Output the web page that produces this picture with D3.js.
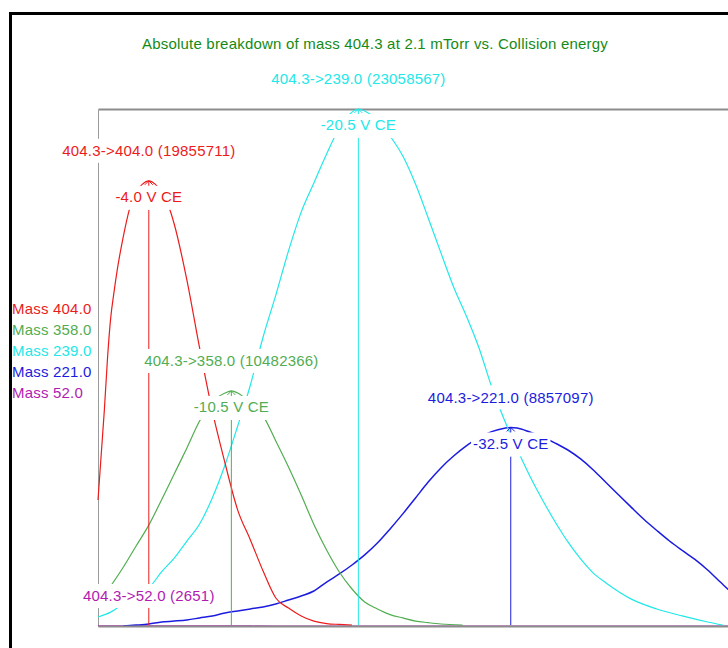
<!DOCTYPE html>
<html>
<head>
<meta charset="utf-8">
<script src="https://cdn.jsdelivr.net/npm/d3@7"></script>
<style>
  html, body { margin: 0; padding: 0; background: #fff; }
  svg { display: block; }
  text { font-family: "Liberation Sans", Arial, sans-serif; font-size: 15px; letter-spacing: 0.2px; }
</style>
</head>
<body>
<svg id="chart" width="728" height="648"></svg>
<script>
// Breakdown curves of precursor 404.3 vs. collision energy (magnitude, volts)
const precursor = 404.3;
const seriesNames = ["Mass 404.0", "Mass 358.0", "Mass 239.0", "Mass 221.0", "Mass 52.0"];
const productMasses = [404.0, 358.0, 239.0, 221.0, 52.0];
const seriesColors = ["#ec1c1c", "#52ad52", "#22e8e8", "#1c1ce0", "#b01cb0"];

// optimum collision energy (V) and intensity at that energy
const peakCE = [4.0, 10.5, 20.5, 32.5, 4.0];
const peakIntensity = [19855711, 10482366, 23058567, 8857097, 2651];

// Mass 404.0
const ce404 = [0, 0.25, 0.5, 0.75, 1, 1.25, 1.5, 2, 2.5, 3, 3.5, 4, 4.5, 5, 5.5, 6, 7, 8, 9, 10, 11,
  12, 13, 14, 15, 16, 17, 18, 19, 20];
const int404 = [5620000, 7630000, 9630000, 11950000, 13740000, 14850000, 15830000, 17390000,
  18640000, 19360000, 19710000, 19855711, 19710000, 19360000, 18820000, 17930000, 15430000,
  12400000, 9590000, 7270000, 5170000, 3840000, 2450000, 1250000, 800000, 450000, 220000,
  110000, 70000, 40000];

// Mass 358.0
const ce358 = [0, 1, 2, 3, 4, 5, 6, 7, 8, 9, 10, 10.5, 11, 12, 13, 14, 15, 16, 17, 18, 19, 20, 21, 22,
  23, 24, 25, 26, 27, 28.7];
const int358 = [980000, 1780000, 2630000, 3570000, 4500000, 5620000, 6780000, 7940000, 9140000,
  9990000, 10390000, 10482366, 10390000, 9950000, 9370000, 8250000, 7090000, 5840000, 4530000,
  3390000, 2410000, 1650000, 1070000, 760000, 510000, 360000, 220000, 150000, 90000, 40000];

// Mass 239.0
const ce239 = [0, 1, 2, 3, 4, 5, 6, 7, 8, 9, 10, 11, 12, 13, 14, 15, 16, 17, 18, 19, 20, 20.5, 21, 22,
  23, 24, 25, 26, 27, 28, 29, 30, 31, 32, 33, 34, 35, 36, 37, 38, 39, 40, 42, 44, 46, 48, 49.2];
const int239 = [400000, 620000, 980000, 1340000, 1690000, 2410000, 3030000, 3790000, 4550000,
  5710000, 7180000, 8920000, 10750000, 12890000, 14760000, 16730000, 18460000, 19760000, 21050000,
  22210000, 22920000, 23058567, 22970000, 22570000, 21850000, 20960000, 19710000, 18200000,
  16640000, 15120000, 13830000, 12400000, 10660000, 9190000, 7890000, 6690000, 5620000, 4640000,
  3750000, 2990000, 2360000, 1920000, 1200000, 760000, 450000, 180000, 40000];

// Mass 221.0
const ce221 = [2, 3, 4, 5, 6, 7, 8, 9, 10, 11, 12, 13, 14, 15, 16, 17, 18, 19, 20, 21, 22, 23, 24, 25,
  26, 27, 28, 29, 30, 31, 32, 32.5, 33, 34, 35, 36, 37, 38, 39, 40, 41, 42, 43, 44, 45, 46, 47, 48,
  49, 50, 51];
const int221 = [0, 40000, 90000, 180000, 220000, 270000, 360000, 450000, 580000, 670000, 760000,
  850000, 980000, 1160000, 1340000, 1560000, 1960000, 2320000, 2720000, 3170000, 3700000, 4330000,
  5000000, 5710000, 6420000, 7050000, 7580000, 8030000, 8410000, 8670000, 8820000, 8857097,
  8830000, 8650000, 8430000, 8160000, 7850000, 7450000, 6960000, 6400000, 5840000, 5290000,
  4750000, 4260000, 3790000, 3370000, 2970000, 2500000, 1960000, 1430000, 940000];

// Mass 52.0
const ce52 = [0, 2, 4, 6, 8, 10, 14, 20, 30, 40, 50];
const int52 = [1200, 2300, 2651, 2400, 1900, 1500, 900, 500, 200, 100, 0];

const ceData = [ce404, ce358, ce239, ce221, ce52];
const intData = [int404, int358, int239, int221, int52];

const titleText = "Absolute breakdown of mass 404.3 at 2.1 mTorr vs. Collision energy";

// ---------------------------------------------------------------------------
const svg = d3.select("#chart");
const plot = { left: 98, top: 109, bottom: 626, pxPerVolt: 12.7 };
const ceMax = 52;

const x = d3.scaleLinear().domain([0, ceMax]).range([plot.left, plot.left + ceMax * plot.pxPerVolt]);
const y = d3.scaleLinear().domain([0, d3.max(peakIntensity)]).range([plot.bottom, plot.top]);

svg.append("rect").attr("width", 728).attr("height", 648).attr("fill", "#fff");

// outer frame
svg.append("path")
  .attr("d", "M10.5,660V13.5H740")
  .attr("fill", "none").attr("stroke", "#000").attr("stroke-width", 3);

// title
svg.append("text")
  .attr("x", 375).attr("y", 44).attr("dy", "0.35em")
  .attr("text-anchor", "middle").attr("fill", "#168a16")
  .text(titleText);

// axes: plain frame lines, no ticks
const axisStyle = (g, color, w) => {
  g.select(".domain").attr("stroke", color).attr("stroke-width", w);
  g.selectAll(".tick").remove();
};
svg.append("g").attr("transform", `translate(0,${plot.top})`)
  .call(d3.axisTop(x).ticks(0).tickSizeOuter(0))
  .call(g => axisStyle(g, "#8c8c8c", 2));
svg.append("g").attr("transform", `translate(${plot.left},0)`)
  .call(d3.axisLeft(y).ticks(0).tickSizeOuter(0))
  .call(g => axisStyle(g, "#9a9a9a", 1));

// curves
const line = d3.line()
  .x(d => x(d[0]))
  .y(d => y(d[1]))
  .curve(d3.curveMonotoneX);

const order = [4, 3, 2, 1, 0];
order.forEach(i => {
  const pts = ceData[i].map((c, k) => [c, intData[i][k]]);
  svg.append("path")
    .attr("d", line(pts))
    .attr("fill", "none")
    .attr("stroke", seriesColors[i])
    .attr("stroke-width", i === 3 ? 1.5 : 1.2);
});

svg.append("g").attr("transform", `translate(0,${plot.bottom})`)
  .call(d3.axisBottom(x).ticks(0).tickSizeOuter(0))
  .call(g => axisStyle(g, "#8c8c8c", 2));

// peak annotations
const labelLayer = svg.append("g");
const fmtMass = d3.format(".1f");

function boxedText(g, cx, cy, str, color, padTop, padBottom) {
  const t = g.append("text")
    .attr("x", cx).attr("y", cy).attr("dy", "0.35em")
    .attr("text-anchor", "middle").attr("fill", color)
    .text(str);
  const bb = t.node().getBBox();
  g.insert("rect", () => t.node())
    .attr("x", bb.x - 2).attr("width", bb.width + 4)
    .attr("y", cy - padTop).attr("height", padTop + padBottom)
    .attr("fill", "#fff");
  return t;
}

productMasses.forEach((m, i) => {
  const px = x(peakCE[i]);
  const py = y(peakIntensity[i]);
  const g = labelLayer.append("g");
  const ceY = py + 16;
  const hasCE = ceY + 13 < plot.bottom;

  if (hasCE) {
    g.append("line")
      .attr("x1", px).attr("x2", px)
      .attr("y1", ceY + 13).attr("y2", plot.bottom - 1)
      .attr("stroke", seriesColors[i]).attr("stroke-width", 1);
  }
  boxedText(g, px, py - 30, `${precursor}->${fmtMass(m)} (${peakIntensity[i]})`, seriesColors[i], 12, 12);
  if (hasCE) {
    boxedText(g, px, ceY, `-${fmtMass(peakCE[i])} V CE`, seriesColors[i], 11, 13);
    // caret at the apex
    g.append("path")
      .attr("d", `M${px - 4},${py + 4}L${px},${py}L${px + 4},${py + 4}M${px},${py}V${py + 5}`)
      .attr("fill", "none").attr("stroke", seriesColors[i]).attr("stroke-width", 1);
  }
});

// legend
const legend = svg.append("g");
seriesNames.forEach((name, i) => {
  legend.append("text")
    .attr("x", 12).attr("y", 309 + i * 21).attr("dy", "0.35em")
    .attr("fill", seriesColors[i])
    .text(name);
});
</script>
</body>
</html>
